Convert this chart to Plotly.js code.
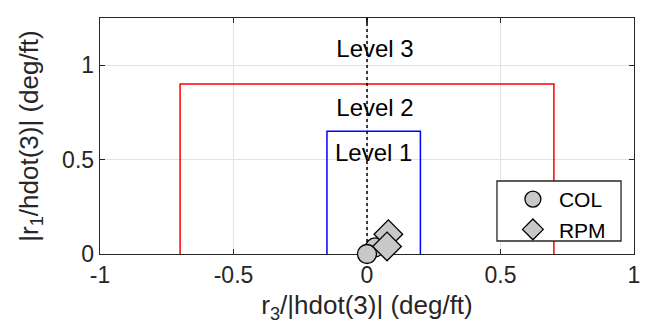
<!DOCTYPE html>
<html>
<head>
<meta charset="utf-8">
<script src="https://cdn.plot.ly/plotly-3.0.1.min.js"></script>
<style>html,body{margin:0;padding:0;background:#fff;}#chart{width:648px;height:336px;}</style>
</head>
<body>
<div id="chart"></div>
<script>
// Data
const colX = [0.03, 0];
const colY = [0.035, 0];
const rpmX = [0.08, 0.075];
const rpmY = [0.105, 0.04];
const level2X = [-0.7, -0.7, 0.7, 0.7];
const level2Y = [0, 0.9, 0.9, 0];
const level1X = [-0.15, -0.15, 0.2, 0.2];
const level1Y = [0, 0.65, 0.65, 0];
const centerX = [0, 0];
const centerY = [0, 1.25];
const levelLabels = ["Level 3", "Level 2", "Level 1"];
const levelLabelX = [0.03, 0.03, 0.025];
const levelLabelY = [1.075, 0.765, 0.525];
const xTicks = [-1, -0.5, 0, 0.5, 1];
const xTickText = ["-1", "-0.5", "0", "0.5", "1"];
const yTicks = [0, 0.5, 1];
const yTickText = ["0", "0.5", "1"];

const FONT = "Liberation Sans, Arial, Helvetica, sans-serif";
const axisCol = "#262626";
const markerFill = "rgb(200,200,200)";

const traces = [
  {x: level2X, y: level2Y, mode: "lines", line: {color: "#ff0000", width: 1.5}, showlegend: false, hoverinfo: "skip"},
  {x: level1X, y: level1Y, mode: "lines", line: {color: "#0000ff", width: 1.5}, showlegend: false, hoverinfo: "skip"},
  {x: centerX, y: centerY, mode: "lines", line: {color: "#000000", width: 1.5, dash: "dot"}, showlegend: false, hoverinfo: "skip"},
  {x: levelLabelX, y: levelLabelY, mode: "text", text: levelLabels, textfont: {family: FONT, size: 24, color: "#000"}, showlegend: false, hoverinfo: "skip"},
  {x: colX, y: colY, mode: "markers", name: "COL", cliponaxis: false,
   marker: {symbol: "circle", size: 19, color: markerFill, line: {color: "#000", width: 1.3}}},
  {x: rpmX, y: rpmY, mode: "markers", name: "RPM", cliponaxis: false,
   marker: {symbol: "diamond", size: 22, color: markerFill, line: {color: "#000", width: 1.3}}}
];

// legend box (paper coordinates of the plot area)
const legendBox = {x0: 0.7434, x1: 0.9757, y0: 0.0551, y1: 0.3093};

const layout = {
  width: 648, height: 336,
  margin: {l: 100, r: 14, t: 18, b: 82},
  paper_bgcolor: "#fff", plot_bgcolor: "#fff",
  font: {family: FONT, size: 23, color: axisCol},
  showlegend: true,
  legend: {
    x: 0.762, y: 0.318, xanchor: "left", yanchor: "top",
    bgcolor: "rgba(0,0,0,0)", borderwidth: 0, itemwidth: 42,
    font: {family: FONT, size: 21, color: "#000"},
    tracegroupgap: 0, itemsizing: "trace"
  },
  shapes: [{
    type: "rect", xref: "paper", yref: "paper", layer: "above",
    x0: legendBox.x0, x1: legendBox.x1, y0: legendBox.y0, y1: legendBox.y1,
    fillcolor: "#fff", line: {color: axisCol, width: 1.3}
  }],
  xaxis: {
    range: [-1, 1], tickvals: xTicks, ticktext: xTickText,
    showgrid: true, gridcolor: "#e3e3e3", gridwidth: 1,
    zeroline: false, showline: true, linecolor: axisCol, linewidth: 1.3,
    mirror: "ticks", ticks: "inside", ticklen: 5, tickcolor: axisCol, tickwidth: 1.3,
    tickfont: {family: FONT, size: 23, color: axisCol},
    layer: "below traces",
    title: {text: "r<sub>3</sub>/|hdot(3)| (deg/ft)", font: {family: FONT, size: 26, color: axisCol}, standoff: 9}
  },
  yaxis: {
    range: [0, 1.25], tickvals: yTicks, ticktext: yTickText,
    showgrid: true, gridcolor: "#e3e3e3", gridwidth: 1,
    zeroline: false, showline: true, linecolor: axisCol, linewidth: 1.3,
    mirror: "ticks", ticks: "inside", ticklen: 5, tickcolor: axisCol, tickwidth: 1.3,
    tickfont: {family: FONT, size: 23, color: axisCol},
    layer: "below traces",
    title: {text: "|r<sub>1</sub>/hdot(3)| (deg/ft)", font: {family: FONT, size: 26, color: axisCol}, standoff: 16}
  }
};

Plotly.newPlot("chart", traces, layout, {displayModeBar: false, staticPlot: true});
</script>
</body>
</html>
